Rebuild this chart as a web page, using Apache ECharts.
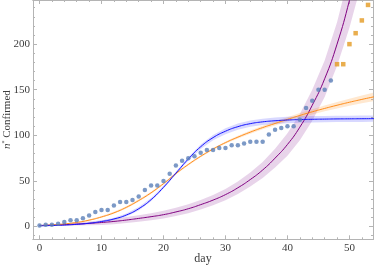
<!DOCTYPE html>
<html><head><meta charset="utf-8">
<script src="https://cdn.jsdelivr.net/npm/echarts@6/dist/echarts.min.js"></script>
<style>html,body{margin:0;padding:0;background:#fff}#c{width:374px;height:265px}</style>
</head><body><div id="c"></div>
<script>
// observed data (blue dots) and later data (orange squares)
const obsDays = [0,1,2,3,4,5,6,7,8,9,10,11,12,13,14,15,16,17,18,19,20,21,22,23,24,25,26,27,28,29,30,31,32,33,34,35,36,37,38,39,40,41,42,43,44,45,46,47];
const obsValues = [1,2,2,3,5,7,7,9,12,16,18,18,23,27,27,29,33,40,45,45,50,58,67,72,75,77,81,84,84,86,86,89,89,91,93,93,93,101,106,108,110,110,117,130,138,150,150,160];
const newDays = [48,49,50,51,52,53];
const newValues = [178,178,200,212,226,243];

// fitted curves, read every 2 days
const curveDays = [0,2,4,6,8,10,12,14,16,18,20,22,24,26,28,30,32,34,36,38,40,42,44,46,48,50,52,54];
const blueFit   = [0.8,1.1,1.6,2.4,3.6,5.5,8.3,12.6,19.5,29.5,43,58.5,74,87.5,97.5,104.5,109.5,112.8,114.8,116,116.8,117.3,117.6,117.8,118,118.1,118.2,118.3];
const blueHalf  = [0.2,0.3,0.4,0.6,0.8,1.1,1.4,1.7,1.9,1.9,1.7,1.5,1.9,2.5,3,3.3,3.5,3.5,3.5,3.5,3.5,3.5,3.5,3.5,3.5,3.5,3.5,3.5];
const orangeFit = [1,1.7,2.8,4.5,7,10.5,15,21,28.5,37,47,58,68,77,85,92,98,103.5,108.5,113,117.5,121.8,125.8,129.5,133,136.3,139.4,142.3];
const orangeHalf= [0.2,0.3,0.4,0.6,0.8,1,1.1,1.2,1.3,1.2,1.1,1,1,1.1,1.2,1.3,1.5,1.7,1.9,2.1,2.3,2.6,2.9,3.2,3.5,3.8,4.2,4.6];
const purpleFit = [1.2,1.6,2.1,2.7,3.5,4.4,5.6,7.1,8.9,10.8,13,16,19.5,24,29,35,42.5,51.5,62,75,90,109,133,162,200,248,305,375];
const purpleHalf= [0.3,0.7,1.1,1.6,2.1,2.6,3,3.3,3.6,3.9,4.2,4.5,4.8,5.2,5.6,6.1,6.8,7.7,8.8,10.3,12.3,14.5,17,20,24,30,37,45];

// ticks
const xMajor = [0,10,20,30,40,50];
const xMinor = [2,4,6,8,12,14,16,18,22,24,26,28,32,34,36,38,42,44,46,48,52];
const yMajor = [0,50,100,150,200];
const yMinor = [-10,10,20,30,40,60,70,80,90,110,120,130,140,160,170,180,190,210,220,230,240];

const FRAME = '#b4b4b4';
const LABEL = '#3c3c3c';
const FONT = 'Liberation Serif';

function pairs(xs, ys){ return xs.map((x,i)=>[x, ys[i]]); }

function bandSeries(center, half, color){
  const data = curveDays.map((d,i)=>[d, center[i]-half[i], center[i]+half[i]]);
  return {
    type:'custom', clip:true, silent:true, z:1,
    data: data,
    encode:{x:0, y:[1,2]},
    renderItem: function(params, api){
      if (params.dataIndex !== 0) return null;
      const up = [], lo = [];
      for (let i=0;i<data.length;i++){
        up.push(api.coord([data[i][0], data[i][2]]));
        lo.push(api.coord([data[i][0], data[i][1]]));
      }
      return {type:'polygon', shape:{points: up.concat(lo.reverse())}, style:{fill:color}};
    }
  };
}
function lineSeries(vals, color){
  return {type:'line', data: pairs(curveDays, vals), showSymbol:false, smooth:0.5,
    lineStyle:{color:color, width:1}, itemStyle:{color:color}, z:3, clip:true, silent:true};
}

function xAx(pos, ticks, len, labels, extra){
  return Object.assign({
    type:'value', position:pos, min:-1.05, max:53.8, gridIndex:0,
    axisLine:{show:true, onZero:false, lineStyle:{color:FRAME, width:1}},
    axisTick:{show:true, inside:true, length:len, customValues:ticks, lineStyle:{color:FRAME}},
    axisLabel:{show:labels, customValues:ticks, color:LABEL, fontFamily:FONT, fontSize:11, margin:3},
    splitLine:{show:false}
  }, extra||{});
}
function yAx(pos, ticks, len, labels, extra){
  return Object.assign({
    type:'value', position:pos, min:-14, max:248.4, gridIndex:0,
    axisLine:{show:true, onZero:false, lineStyle:{color:FRAME, width:1}},
    axisTick:{show:true, inside:true, length:len, customValues:ticks, lineStyle:{color:FRAME}},
    axisLabel:{show:labels, customValues:ticks, color:LABEL, fontFamily:FONT, fontSize:11, margin:3},
    splitLine:{show:false}
  }, extra||{});
}

const chart = echarts.init(document.getElementById('c'), null, {renderer:'canvas'});
chart.setOption({
  animation:false,
  backgroundColor:'#fff',
  grid:{left:33, right:1, top:0, bottom:25.7, containLabel:false, outerBoundsMode:'none'},
  xAxis:[
    xAx('bottom', xMajor, 4, true, {name:'day', nameLocation:'middle', nameGap:14, nameMoveOverlap:false,
      nameTextStyle:{color:LABEL, fontFamily:FONT, fontSize:12}}),
    xAx('bottom', xMinor, 2, false),
    xAx('top', xMajor, 4, false),
    xAx('top', xMinor, 2, false)
  ],
  yAxis:[
    yAx('left', yMajor, 4, true, {name:'{n|n}{s|*} Confirmed', nameLocation:'middle', nameGap:20, nameRotate:90,
      nameMoveOverlap:false,
      nameTextStyle:{color:LABEL, fontFamily:FONT, fontSize:11,
        rich:{n:{fontStyle:'italic', fontFamily:FONT, fontSize:11, color:LABEL},
              s:{fontSize:6, fontFamily:FONT, color:LABEL, verticalAlign:'top', padding:[0,0,6,0]}}}}),
    yAx('left', yMinor, 2, false),
    yAx('right', yMajor, 4, false),
    yAx('right', yMinor, 2, false)
  ],
  series:[
    bandSeries(purpleFit, purpleHalf, 'rgba(140,40,150,0.2)'),
    bandSeries(orangeFit, orangeHalf, 'rgba(255,150,40,0.22)'),
    bandSeries(blueFit, blueHalf, 'rgba(60,60,255,0.2)'),
    lineSeries(purpleFit, '#800080'),
    lineSeries(orangeFit, '#ff8c1a'),
    lineSeries(blueFit, '#1414ff'),
    {type:'scatter', data: pairs(obsDays, obsValues), symbol:'circle', symbolSize:4.5,
      itemStyle:{color:'#5b80b8'}, z:5, silent:true},
    {type:'scatter', data: pairs(newDays, newValues), symbol:'rect', symbolSize:4.5,
      itemStyle:{color:'#e39a22'}, z:5, silent:true}
  ]
});
</script></body></html>
